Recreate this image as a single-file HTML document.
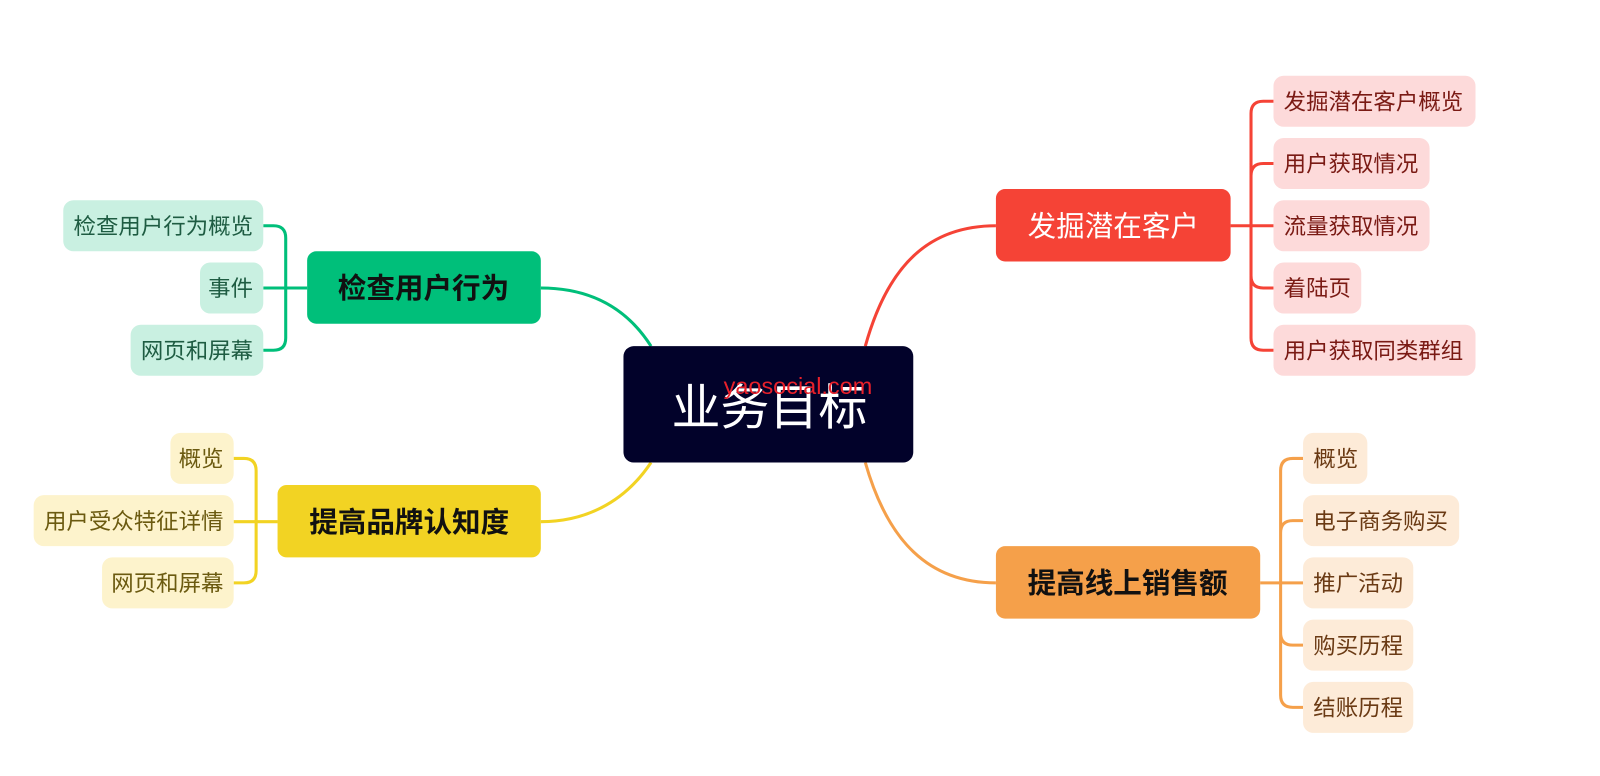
<!DOCTYPE html>
<html><head><meta charset="utf-8"><style>
html,body{margin:0;padding:0;background:#fff;width:1600px;height:776px;overflow:hidden}
svg text{font-family:"Liberation Sans","Noto Sans CJK SC",sans-serif}
</style></head><body>
<svg width="1600" height="776" viewBox="0 0 1568 760" xmlns="http://www.w3.org/2000/svg">
<g fill="none" stroke-width="3">
<path d="M848 339 C 870 260, 910 221, 976 221" stroke="#f54336"/>
<path d="M848 453 C 870 530, 910 571, 976 571" stroke="#f5a04a"/>
<path d="M638 339 C 610 295, 570 282, 530 282" stroke="#00bf7a"/>
<path d="M638 453 C 610 495, 570 511, 530 511" stroke="#f2d323"/>
<path d="M1206 221 H1248 M1248 99 H1238 Q1226 99 1226 111 V331 Q1226 343 1238 343 H1248 M1226 172 Q1226 160 1238 160 H1248 M1226 270 Q1226 282 1238 282 H1248" stroke="#f54336"/>
<path d="M1235 571 H1277 M1277 449 H1267 Q1255 449 1255 461 V681 Q1255 693 1267 693 H1277 M1255 522 Q1255 510 1267 510 H1277 M1255 620 Q1255 632 1267 632 H1277" stroke="#f5a04a"/>
<path d="M301 282 H258 M258 221 H268 Q280 221 280 233 V331 Q280 343 268 343 H258" stroke="#00bf7a"/>
<path d="M272 511 H229 M229 449 H239 Q251 449 251 461 V559 Q251 571 239 571 H229" stroke="#f2d323"/>
</g>
<rect x="611" y="339" width="284" height="114" rx="10" fill="#02022a"/>
<text x="754" y="416" font-size="48" fill="#fff" text-anchor="middle">业务目标</text>
<text x="782" y="386" font-size="23" fill="#e8202a" text-anchor="middle">yaosocial.com</text>
<rect x="976" y="185" width="230" height="71" rx="9" fill="#f54336"/>
<text x="1091" y="231" font-size="28" fill="#fff" text-anchor="middle">发掘潜在客户</text>
<rect x="976" y="535" width="259" height="71" rx="9" fill="#f5a04a"/>
<text x="1105" y="581" font-size="28" fill="#111" text-anchor="middle" font-weight="bold">提高线上销售额</text>
<rect x="301" y="246" width="229" height="71" rx="9" fill="#00bf7a"/>
<text x="415" y="292" font-size="28" fill="#111" text-anchor="middle" font-weight="bold">检查用户行为</text>
<rect x="272" y="475" width="258" height="71" rx="9" fill="#f2d323"/>
<text x="401" y="521" font-size="28" fill="#111" text-anchor="middle" font-weight="bold">提高品牌认知度</text>
<g font-size="22" fill="#7a1a14">
<rect x="1248" y="74" width="198" height="50" rx="10" fill="#fddada"/><text x="1258" y="107">发掘潜在客户概览</text>
<rect x="1248" y="135" width="153" height="50" rx="10" fill="#fddada"/><text x="1258" y="168">用户获取情况</text>
<rect x="1248" y="196" width="153" height="50" rx="10" fill="#fddada"/><text x="1258" y="229">流量获取情况</text>
<rect x="1248" y="257" width="86" height="50" rx="10" fill="#fddada"/><text x="1258" y="290">着陆页</text>
<rect x="1248" y="318" width="198" height="50" rx="10" fill="#fddada"/><text x="1258" y="351">用户获取同类群组</text>
</g>
<g font-size="22" fill="#6a3a14">
<rect x="1277" y="424" width="63" height="50" rx="10" fill="#fdebd8"/><text x="1287" y="457">概览</text>
<rect x="1277" y="485" width="153" height="50" rx="10" fill="#fdebd8"/><text x="1287" y="518">电子商务购买</text>
<rect x="1277" y="546" width="108" height="50" rx="10" fill="#fdebd8"/><text x="1287" y="579">推广活动</text>
<rect x="1277" y="607" width="108" height="50" rx="10" fill="#fdebd8"/><text x="1287" y="640">购买历程</text>
<rect x="1277" y="668" width="108" height="50" rx="10" fill="#fdebd8"/><text x="1287" y="701">结账历程</text>
</g>
<g font-size="22" fill="#1e5c42" text-anchor="end">
<rect x="62" y="196" width="196" height="50" rx="10" fill="#c9f0e1"/><text x="248" y="229">检查用户行为概览</text>
<rect x="196" y="257" width="62" height="50" rx="10" fill="#c9f0e1"/><text x="248" y="290">事件</text>
<rect x="128" y="318" width="130" height="50" rx="10" fill="#c9f0e1"/><text x="248" y="351">网页和屏幕</text>
</g>
<g font-size="22" fill="#6b5a10" text-anchor="end">
<rect x="167" y="424" width="62" height="50" rx="10" fill="#fdf3cc"/><text x="219" y="457">概览</text>
<rect x="33" y="485" width="196" height="50" rx="10" fill="#fdf3cc"/><text x="219" y="518">用户受众特征详情</text>
<rect x="100" y="546" width="129" height="50" rx="10" fill="#fdf3cc"/><text x="219" y="579">网页和屏幕</text>
</g>
</svg>
</body></html>
